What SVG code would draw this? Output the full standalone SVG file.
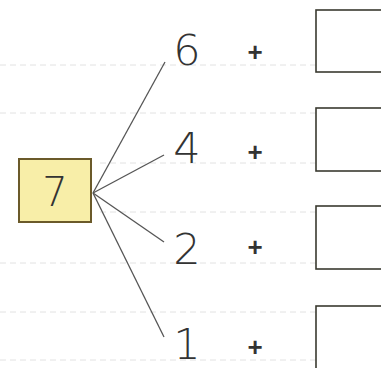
<svg xmlns="http://www.w3.org/2000/svg" width="381" height="368" viewBox="0 0 381 368">
<style>
.guide{stroke:#e2e2e2;stroke-width:1;stroke-dasharray:6 4;fill:none}
.conn{stroke:#555;stroke-width:1.3;fill:none}
.num{font-family:"DejaVu Sans","Liberation Sans",sans-serif;font-size:43px;font-weight:300;fill:#333}
.plus{font-family:"Liberation Sans",Arial,sans-serif;font-size:26px;font-weight:bold;fill:#333}
.ans{fill:#fff;stroke:#3a3a30;stroke-width:1.6}
</style>
<rect width="381" height="368" fill="#fff"/>
<g id="guides">
<line class="guide" x1="0" y1="65" x2="316" y2="65"/>
<line class="guide" x1="0" y1="113" x2="316" y2="113"/>
<line class="guide" x1="100" y1="163" x2="316" y2="163"/>
<line class="guide" x1="100" y1="212" x2="316" y2="212"/>
<line class="guide" x1="0" y1="263" x2="316" y2="263"/>
<line class="guide" x1="0" y1="312" x2="316" y2="312"/>
<line class="guide" x1="0" y1="360" x2="316" y2="360"/>
</g>
<g id="connectors">
<line class="conn" x1="93" y1="193" x2="165" y2="62"/>
<line class="conn" x1="93" y1="193" x2="164" y2="155"/>
<line class="conn" x1="93" y1="193" x2="164" y2="242"/>
<line class="conn" x1="93" y1="193" x2="164" y2="337"/>
</g>
<g id="node-7">
<rect x="19" y="159" width="72" height="63" fill="#f8eea8" stroke="#6b5a2a" stroke-width="2"/>
<text x="55" y="206" text-anchor="middle" class="num" style="font-size:40px">7</text>
</g>
<g id="row-6">
<text x="187" y="65" text-anchor="middle" class="num">6</text>
<text x="255" y="61" text-anchor="middle" class="plus">+</text>
<rect class="ans" x="316" y="10" width="70" height="62"/>
</g>
<g id="row-4">
<text x="187" y="163" text-anchor="middle" class="num">4</text>
<text x="255" y="161" text-anchor="middle" class="plus">+</text>
<rect class="ans" x="316" y="108" width="70" height="63"/>
</g>
<g id="row-2">
<text x="187" y="264" text-anchor="middle" class="num">2</text>
<text x="255" y="256" text-anchor="middle" class="plus">+</text>
<rect class="ans" x="316" y="206" width="70" height="63"/>
</g>
<g id="row-1">
<text x="187" y="359" text-anchor="middle" class="num">1</text>
<text x="255" y="356" text-anchor="middle" class="plus">+</text>
<rect class="ans" x="316" y="306" width="70" height="70"/>
</g>
</svg>
